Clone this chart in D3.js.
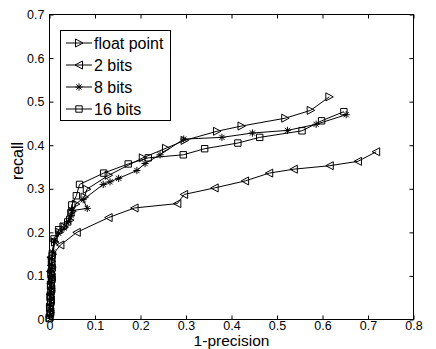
<!DOCTYPE html>
<html>
<head>
<meta charset="utf-8">
<script src="https://cdn.jsdelivr.net/npm/d3@7"></script>
<style>
  body { margin: 0; background: #fff; }
  svg { display: block; font-family: "Liberation Sans", Arial, sans-serif; }
</style>
</head>
<body>
<div id="graf"></div>
<script>
// Curvas recall vs 1-precision

// datos
series = ['float point', '2 bits', '8 bits', '16 bits']
simbolos = ['triRight', 'triLeft', 'star', 'square']

floatX = [0, 0.002, 0.001, 0.003, 0.002, 0.004, 0.003, 0.005, 0.004, 0.006, 0.005, 0.007, 0.012, 0.022, 0.033, 0.045, 0.05, 0.058, 0.077, 0.082, 0.13, 0.205, 0.256, 0.297, 0.368, 0.422, 0.518, 0.574, 0.615]
floatY = [0.004, 0.016, 0.028, 0.041, 0.053, 0.066, 0.079, 0.092, 0.106, 0.12, 0.134, 0.15, 0.178, 0.2, 0.212, 0.228, 0.248, 0.265, 0.281, 0.299, 0.331, 0.371, 0.393, 0.411, 0.432, 0.444, 0.462, 0.48, 0.511]

bits2X = [0, 0.002, 0.001, 0.003, 0.002, 0.004, 0.003, 0.005, 0.002, 0.004, 0.003, 0.024, 0.06, 0.13, 0.187, 0.281, 0.296, 0.363, 0.43, 0.483, 0.537, 0.616, 0.678, 0.718]
bits2Y = [0.006, 0.018, 0.031, 0.044, 0.057, 0.07, 0.083, 0.096, 0.11, 0.124, 0.143, 0.171, 0.2, 0.234, 0.256, 0.266, 0.287, 0.302, 0.318, 0.336, 0.345, 0.353, 0.363, 0.385]

bits8X = [0.001, 0.003, 0.002, 0.004, 0.001, 0.005, 0.003, 0.006, 0.002, 0.005, 0.004, 0.007, 0.01, 0.02, 0.032, 0.042, 0.048, 0.05, 0.083, 0.074, 0.118, 0.133, 0.152, 0.192, 0.21, 0.243, 0.295, 0.379, 0.446, 0.523, 0.586, 0.652]
bits8Y = [0.008, 0.02, 0.033, 0.046, 0.058, 0.071, 0.085, 0.098, 0.112, 0.126, 0.14, 0.155, 0.18, 0.198, 0.21, 0.225, 0.238, 0.25, 0.255, 0.275, 0.31, 0.316, 0.324, 0.342, 0.358, 0.378, 0.414, 0.418, 0.428, 0.434, 0.448, 0.47]

bits16X = [0, 0.002, 0.001, 0.003, 0.002, 0.004, 0.003, 0.005, 0.004, 0.006, 0.005, 0.006, 0.01, 0.02, 0.03, 0.04, 0.047, 0.049, 0.059, 0.066, 0.119, 0.173, 0.217, 0.294, 0.341, 0.414, 0.462, 0.555, 0.598, 0.647]
bits16Y = [0.002, 0.014, 0.026, 0.039, 0.052, 0.065, 0.078, 0.091, 0.104, 0.118, 0.132, 0.147, 0.185, 0.206, 0.214, 0.224, 0.245, 0.263, 0.284, 0.31, 0.336, 0.357, 0.371, 0.378, 0.392, 0.405, 0.418, 0.433, 0.456, 0.477]

xTicks = [0, 0.1, 0.2, 0.3, 0.4, 0.5, 0.6, 0.7, 0.8]
yTicks = [0, 0.1, 0.2, 0.3, 0.4, 0.5, 0.6, 0.7]

valores = [[floatX, floatY], [bits2X, bits2Y], [bits8X, bits8Y], [bits16X, bits16Y]]

// dimensiones
ancho_total = 436
alto_total = 349
margins = { top: 14.5, left: 49.5, right: 22.5, bottom: 29.5 }
ancho = ancho_total - margins.left - margins.right
alto = alto_total - margins.top - margins.bottom

svg = d3.select('#graf').append('svg')
        .attr('width', ancho_total)
        .attr('height', alto_total)

g = svg.append('g')
        .attr('transform', `translate(${margins.left}, ${margins.top})`)

// escaladores
x = d3.scaleLinear().domain([0, 0.8]).range([0, ancho])
y = d3.scaleLinear().domain([0, 0.7]).range([alto, 0])

fmt = d => d == 0 ? '0' : d3.format('.1f')(d)

// ejes (ticks hacia dentro en los 4 lados)
xAxis = g.append('g')
          .attr('transform', `translate(0, ${alto})`)
          .call(d3.axisBottom(x).tickValues(xTicks).tickFormat(fmt).tickSizeInner(-4).tickSizeOuter(0).tickPadding(1.5))
yAxis = g.append('g')
          .call(d3.axisLeft(y).tickValues(yTicks).tickFormat(fmt).tickSizeInner(-4).tickSizeOuter(0).tickPadding(5))
xTop = g.append('g')
          .call(d3.axisTop(x).tickValues(xTicks).tickFormat('').tickSizeInner(-4).tickSizeOuter(0))
yRight = g.append('g')
          .attr('transform', `translate(${ancho}, 0)`)
          .call(d3.axisRight(y).tickValues(yTicks).tickFormat('').tickSizeInner(-4).tickSizeOuter(0))

svg.selectAll('.domain').remove()
svg.selectAll('.tick line').attr('stroke', '#000').attr('stroke-width', 1)
svg.selectAll('.tick text')
    .attr('font-size', '12.5px')
    .attr('font-family', '"Liberation Sans", Arial, sans-serif')
    .attr('fill', '#000')

// caja del grafico
g.append('rect')
  .attr('width', ancho)
  .attr('height', alto)
  .attr('fill', 'none')
  .attr('stroke', '#000')
  .attr('stroke-width', 1)

// generador de marcadores
function marcador(sel, tipo) {
  if (tipo == 'triRight') {
    sel.append('path').attr('d', 'M-3.5,-4L4,0L-3.5,4Z')
  } else if (tipo == 'triLeft') {
    sel.append('path').attr('d', 'M3.5,-4L-4,0L3.5,4Z')
  } else if (tipo == 'square') {
    sel.append('path').attr('d', 'M-3.2,-3.2H3.2V3.2H-3.2Z')
  } else {
    sel.append('path').attr('d', 'M0,-3.6V3.6M-3.6,0H3.6M-2.6,-2.6L2.6,2.6M-2.6,2.6L2.6,-2.6')
  }
  sel.selectAll('path')
      .attr('fill', 'none')
      .attr('stroke', '#000')
      .attr('stroke-width', 1)
}

lineaGen = d3.line()
              .x(d => x(d[0]))
              .y(d => y(d[1]))

// pintar las series
valores.forEach((v, i) => {
  puntos = v[0].map((d, j) => [d, v[1][j]])
  g.append('path')
    .attr('d', lineaGen(puntos))
    .attr('fill', 'none')
    .attr('stroke', '#000')
    .attr('stroke-width', 1)
  g.append('g').selectAll('g')
    .data(puntos)
    .join('g')
    .attr('transform', d => `translate(${x(d[0])}, ${y(d[1])})`)
    .each(function() { marcador(d3.select(this), simbolos[i]) })
})

// etiquetas de ejes
svg.append('text')
    .attr('x', margins.left + ancho / 2)
    .attr('y', 346.3)
    .attr('text-anchor', 'middle')
    .attr('font-size', '15.5px')
    .text('1-precision')

svg.append('text')
    .attr('transform', 'translate(23, 161) rotate(-90)')
    .attr('text-anchor', 'middle')
    .attr('font-size', '16px')
    .text('recall')

// leyenda
leyenda = svg.append('g')
leyenda.append('rect')
    .attr('x', 60.5)
    .attr('y', 30.5)
    .attr('width', 110)
    .attr('height', 90)
    .attr('fill', '#fff')
    .attr('stroke', '#000')
    .attr('stroke-width', 1)

series.forEach((s, i) => {
  cy = 43 + i * 22
  item = leyenda.append('g')
  item.append('line')
      .attr('x1', 66).attr('x2', 92)
      .attr('y1', cy).attr('y2', cy)
      .attr('stroke', '#000')
  marcador(item.append('g').attr('transform', `translate(79, ${cy})`), simbolos[i])
  item.append('text')
      .attr('x', 94)
      .attr('y', cy + 5.6)
      .attr('font-size', '16px')
      .text(s)
})
</script>
</body>
</html>
